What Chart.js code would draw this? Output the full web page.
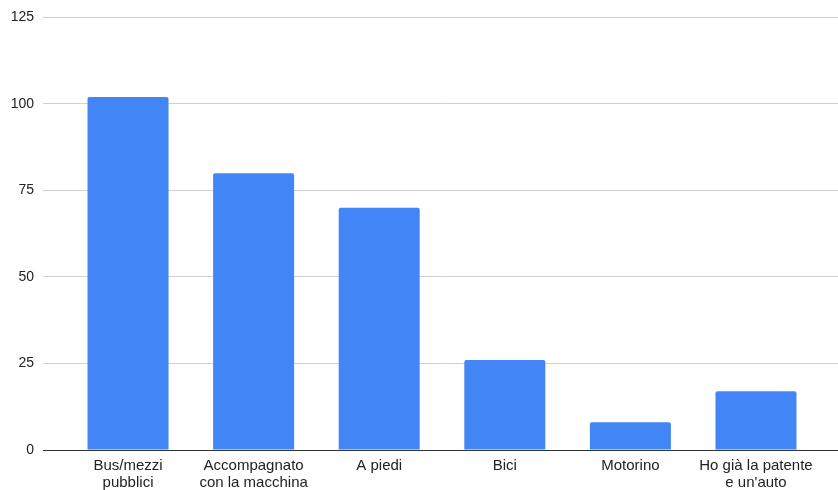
<!DOCTYPE html>
<html>
<head>
<meta charset="utf-8">
<script src="https://cdn.jsdelivr.net/npm/chart.js@4"></script>
<style>
  html, body { margin: 0; padding: 0; background: #fff; }
  #wrap { width: 838px; height: 490px; }
</style>
</head>
<body>
<div id="wrap"><canvas id="chart"></canvas></div>
<script>
var categories = [
    ['Bus/mezzi', 'pubblici'],
    ['Accompagnato', 'con la macchina'],
    'A piedi',
    'Bici',
    'Motorino',
    ['Ho già la patente', 'e un\'auto']
];
var values = [102, 80, 70, 26, 8, 17];
var yTicks = [0, 25, 50, 75, 100, 125];

// bars on a linear x so the category band can sit inside a wider grid
var points = values.map(function (v, i) { return { x: i, y: v }; });

var ctx = document.getElementById('chart').getContext('2d');
new Chart(ctx, {
    type: 'bar',
    data: {
        datasets: [{
            data: points,
            backgroundColor: '#4285f4',
            borderRadius: { topLeft: 2, topRight: 2 },
            borderSkipped: 'bottom',
            barPercentage: 0.645,
            categoryPercentage: 1
        }]
    },
    options: {
        responsive: true,
        maintainAspectRatio: false,
        animation: false,
        layout: { padding: { top: 7, right: 0, bottom: 0, left: 0 } },
        plugins: { legend: { display: false }, tooltip: { enabled: false } },
        scales: {
            x: {
                type: 'linear',
                offset: false,
                min: -0.677,
                max: 5.653,
                afterBuildTicks: function (axis) {
                    axis.ticks = categories.map(function (c, i) { return { value: i }; });
                },
                afterFit: function (axis) { axis.height = 40; },
                grid: { display: false, drawTicks: false },
                border: { color: '#333', width: 1 },
                ticks: {
                    color: '#222',
                    font: { family: 'Liberation Sans, Arial', size: 15, lineHeight: 1.1 },
                    maxRotation: 0,
                    autoSkip: false,
                    padding: 8,
                    callback: function (v) { return categories[v]; }
                }
            },
            y: {
                min: 0,
                max: yTicks[yTicks.length - 1],
                afterBuildTicks: function (axis) {
                    axis.ticks = yTicks.map(function (v) { return { value: v }; });
                },
                afterFit: function (axis) { axis.width = 43; },
                border: { display: false },
                grid: {
                    color: function (c) { return c.tick && c.tick.value === 0 ? '#333' : '#d0d0d0'; },
                    drawTicks: false
                },
                ticks: {
                    color: '#222',
                    font: { family: 'Liberation Sans, Arial', size: 14 },
                    padding: 9
                }
            }
        }
    }
});
</script>
</body>
</html>
